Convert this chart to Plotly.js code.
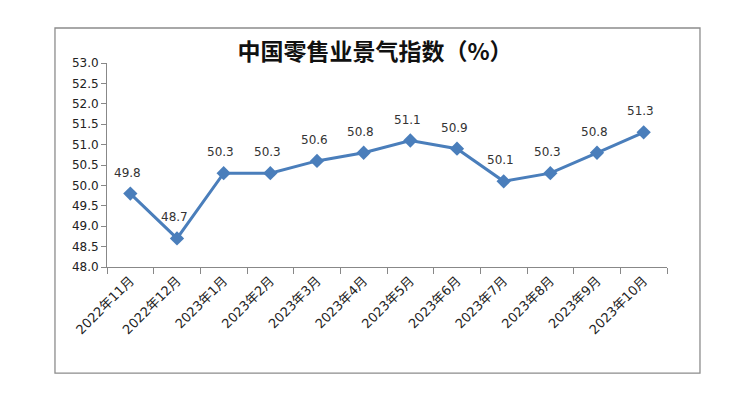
<!DOCTYPE html>
<html><head><meta charset="utf-8">
<script src="https://cdn.plot.ly/plotly-3.0.1.min.js"></script>
<style>html,body{margin:0;padding:0;background:#fff}#c{width:750px;height:402px}</style>
</head><body><div id="c"></div>
<script>
const months = ["2022年11月","2022年12月","2023年1月","2023年2月","2023年3月","2023年4月","2023年5月","2023年6月","2023年7月","2023年8月","2023年9月","2023年10月"];
const values = [49.8,48.7,50.3,50.3,50.6,50.8,51.1,50.9,50.1,50.3,50.8,51.3];
const yTicks = [48.0,48.5,49.0,49.5,50.0,50.5,51.0,51.5,52.0,52.5,53.0];
const titleText = "中国零售业景气指数（%）";

const trace = {
  x: months, y: values, type: "scatter", mode: "lines+markers",
  line: {color: "#4A7EBB", width: 3},
  marker: {symbol: "diamond", size: 11, color: "#4A7EBB"},
  hoverinfo: "skip"
};
const annotations = values.map((v,i)=>({
  x: months[i], y: v, xref: "x", yref: "y", text: v.toFixed(1),
  showarrow: false, yshift: 21, xshift: -3,
  font: {family: "DejaVu Sans, sans-serif", size: 12, color: "#333"}
}));
const layout = {
  width: 750, height: 402,
  margin: {l: 107, r: 83, t: 63, b: 135},
  paper_bgcolor: "#fff", plot_bgcolor: "#fff",
  showlegend: false,
  title: {text: "<b>"+titleText+"</b>", x: 0.5, xanchor: "center", y: 0.872, yanchor: "middle",
    font: {family: "Noto Sans CJK SC, sans-serif", size: 23, color: "#111"}},
  xaxis: {type: "category", range: [-0.5, 11.5], tickson: "boundaries", ticks: "outside", ticklen: 6, tickcolor: "#888",
    showline: true, linecolor: "#888", linewidth: 1, showgrid: false, zeroline: false,
    tickangle: -45, tickfont: {family: "DejaVu Sans, Noto Sans CJK SC, sans-serif", size: 13, color: "#222"},
    fixedrange: true},
  yaxis: {range: [48, 53], tickvals: yTicks, ticktext: yTicks.map(t=>t.toFixed(1)),
    ticks: "outside", ticklen: 5, tickcolor: "#888",
    showline: true, linecolor: "#888", linewidth: 1, showgrid: false, zeroline: false,
    tickfont: {family: "DejaVu Sans, sans-serif", size: 12, color: "#222"}, fixedrange: true},
  annotations: annotations,
  shapes: [{type: "rect", xref: "paper", yref: "paper", x0: -0.0929, x1: 1.0589, y0: -0.52, y1: 1.1716,
    line: {color: "#8c8c8c", width: 1.3}, fillcolor: "rgba(0,0,0,0)"}]
};
Plotly.newPlot("c", [trace], layout, {displayModeBar: false, staticPlot: true});
</script></body></html>
